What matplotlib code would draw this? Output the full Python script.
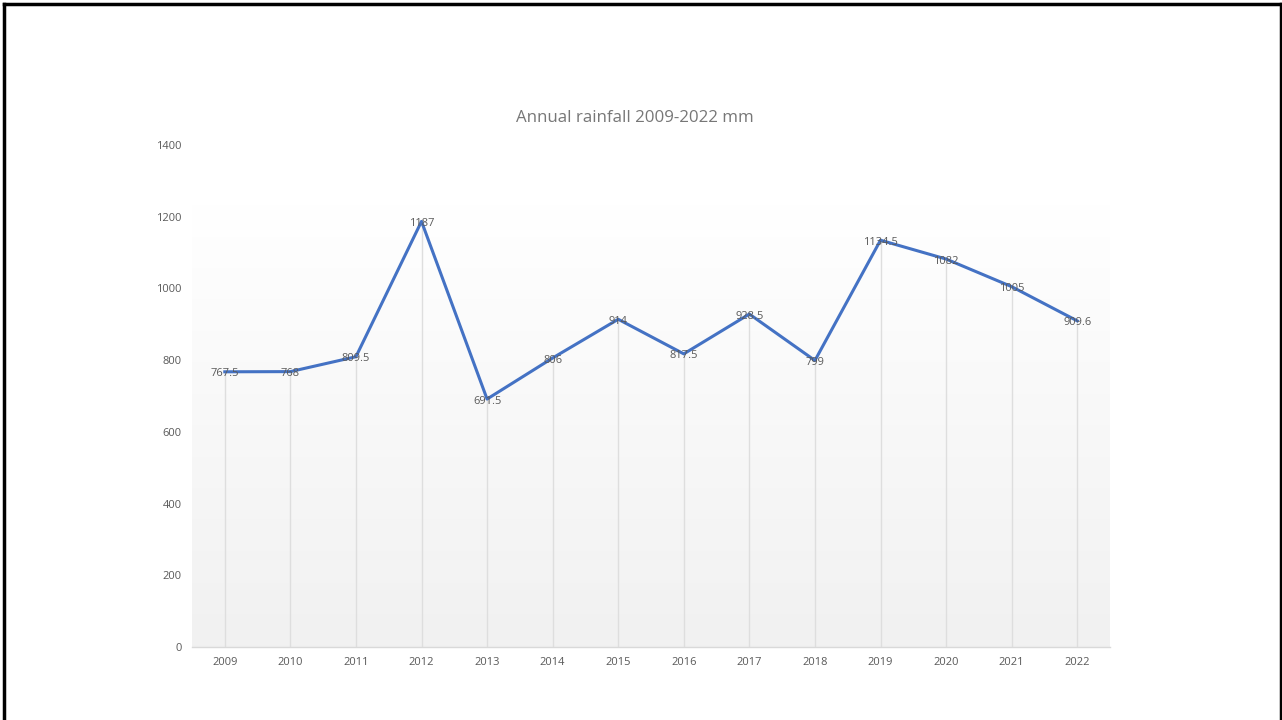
import matplotlib
matplotlib.use("Agg")
import matplotlib.pyplot as plt
from matplotlib.lines import Line2D
import numpy as np

years = ["2009", "2010", "2011", "2012", "2013", "2014", "2015", "2016",
         "2017", "2018", "2019", "2020", "2021", "2022"]
rainfall = [767.5, 768, 809.5, 1187, 691.5, 806, 914, 817.5,
            928.5, 799, 1134.5, 1082, 1005, 909.6]
labels = ["767.5", "768", "809.5", "1187", "691.5", "806", "914", "817.5",
          "928.5", "799", "1134.5", "1082", "1005", "909.6"]
yticks = [0, 200, 400, 600, 800, 1000, 1200, 1400]
title = "Annual rainfall 2009-2022 mm"

plt.rcParams['font.family'] = ['Open Sans', 'DejaVu Sans']

fig = plt.figure(figsize=(12.82, 7.2), dpi=100)
fig.patch.set_facecolor('white')
ax = fig.add_axes([192/1282, 1-647/720, (1110-192)/1282, (647-145)/720])

x = np.arange(len(years))
ax.set_xlim(-0.5, len(years) - 0.5)

# gradient background (white top -> light gray bottom)
grad = np.linspace(0, 1, 256).reshape(-1, 1)
top_c = np.array([1.0, 1.0, 1.0])
bot_c = np.array([0.945, 0.945, 0.945])
img = top_c + (bot_c - top_c) * grad
img = img.reshape(256, 1, 3)[::-1]
ax.imshow(img, extent=[-0.5, len(years) - 0.5, 0, 1235], aspect='auto',
          origin='lower', zorder=0)
ax.set_ylim(0, 1400)

# drop lines
ax.vlines(x, 0, rainfall, colors='#dedede', linewidth=1.0, zorder=1)

ax.plot(x, rainfall, color='#4472C4', linewidth=2.2, zorder=3,
        solid_joinstyle='round')

for xi, v, lab in zip(x, rainfall, labels):
    ax.annotate(lab, (xi, v), xytext=(0, -1.5), textcoords='offset points',
                ha='center', va='center', fontsize=8,
                color='#595959', zorder=4)

for s in ['top', 'right', 'left']:
    ax.spines[s].set_visible(False)
ax.spines['bottom'].set_color('#d9d9d9')
ax.spines['bottom'].set_linewidth(1.0)

ax.set_xticks(x)
ax.set_xticklabels(years)
ax.set_yticks(yticks)
ax.set_yticklabels([str(t) for t in yticks])
ax.tick_params(axis='both', length=0, labelsize=8, labelcolor='#595959')
ax.tick_params(axis='x', pad=7.5)
ax.tick_params(axis='y', pad=7.5)

fig.text(635/1282, 1-118/720, title, ha='center', va='center',
         fontsize=12.2, color='#777777')

# slide border (left, top, right)
lw = 2.5
fig.add_artist(Line2D([4/1282, 4/1282], [0, 1-4/720], transform=fig.transFigure,
                      color='black', linewidth=lw))
fig.add_artist(Line2D([4/1282, 1280.5/1282], [1-4/720, 1-4/720], transform=fig.transFigure,
                      color='black', linewidth=lw))
fig.add_artist(Line2D([1280.5/1282, 1280.5/1282], [0, 1-4/720], transform=fig.transFigure,
                      color='black', linewidth=lw))

fig.savefig("out.png", dpi=100, facecolor='white')
